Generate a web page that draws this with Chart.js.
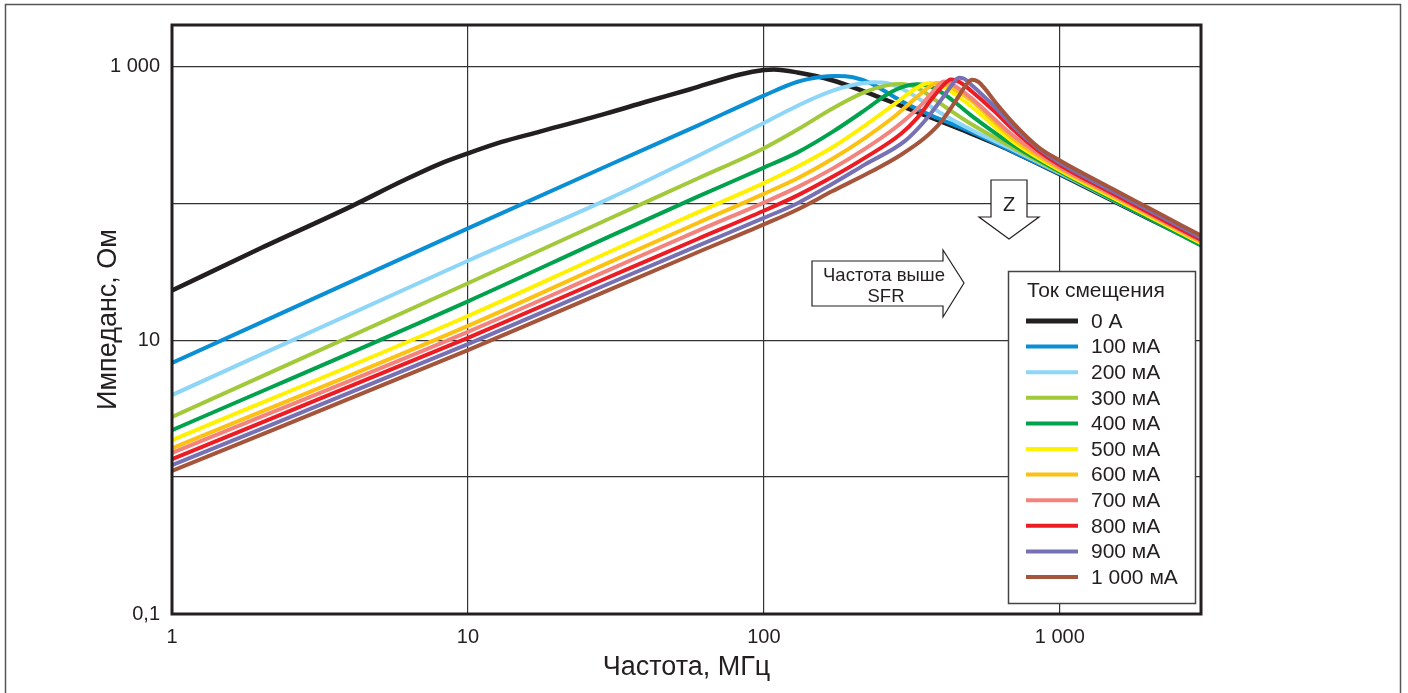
<!DOCTYPE html>
<html>
<head>
<meta charset="utf-8">
<script src="https://cdn.jsdelivr.net/npm/chart.js@4.4.1/dist/chart.umd.min.js"></script>
<style>
  body { margin: 0; background: #fff; }
  canvas { display: block; }
</style>
</head>
<body>
<canvas id="myChart" width="1408" height="693"></canvas>
<script>
// оси
var xTicks = [1, 10, 100, 1000];
var xTickLabels = ["1", "10", "100", "1 000"];
var yTicks = [0.1, 1, 10, 100, 1000];
var yTickLabels = ["0,1", "", "10", "", "1 000"];

var legendTitle = "Ток смещения";
var labels = ["0 А", "100 мА", "200 мА", "300 мА", "400 мА", "500 мА", "600 мА", "700 мА", "800 мА", "900 мА", "1 000 мА"];
var colors = ["#231f20", "#0a8fd5", "#8dd6f7", "#a2c93a", "#00a24d", "#fff100", "#fdc114", "#f2847d", "#ec1c24", "#7671b4", "#a4553b"];

// [частота МГц, импеданс Ом]
var z0 = [[1, 23], [2, 47], [4, 94], [6, 145], [8, 193], [10, 231], [13, 280], [17.5, 333], [29.4, 452], [40, 550], [56, 676], [83, 871], [100, 938], [108, 945], [130, 900], [170, 790], [220, 650], [290, 515], [370, 420], [480, 335], [630, 262], [700, 236], [1000, 163], [1500, 105], [2000, 77], [3000, 50]];
var z100 = [[1, 6.8], [10, 65.5], [30, 190], [60, 370], [100, 610], [130, 770], [155, 835], [175, 850], [200, 830], [230, 750], [290, 560], [370, 435], [480, 345], [700, 236], [1000, 164], [1500, 106], [2000, 77.5], [3000, 50]];
var z200 = [[1, 3.97], [10, 38], [30, 108], [60, 222], [100, 385], [130, 515], [170, 660], [200, 730], [235, 765], [260, 755], [290, 690], [330, 590], [400, 450], [500, 345], [700, 244], [1000, 166], [1500, 106.6], [2000, 78], [3000, 50]];
var z300 = [[1, 2.75], [10, 26], [30, 77], [60, 152], [100, 252], [130, 345], [170, 490], [220, 650], [260, 725], [290, 742], [330, 695], [370, 590], [430, 470], [500, 380], [700, 252], [1000, 168], [1500, 107.4], [2000, 78.2], [3000, 50]];
var z400 = [[1, 2.2], [10, 19.2], [30, 57], [60, 112], [100, 182], [130, 235], [170, 330], [220, 480], [260, 620], [300, 715], [330, 740], [360, 720], [400, 640], [450, 530], [500, 440], [700, 263], [1000, 170], [1500, 107.4], [2000, 77.5], [3000, 49]];
var z500 = [[1, 1.86], [10, 15], [30, 44], [60, 86], [100, 140], [130, 185], [170, 255], [220, 370], [280, 540], [320, 670], [345, 735], [365, 755], [390, 730], [430, 650], [490, 530], [700, 278], [1000, 174], [1500, 110.6], [2000, 80.2], [3000, 51]];
var z600 = [[1, 1.62], [10, 12.7], [30, 37], [60, 72], [100, 117], [130, 152], [170, 210], [220, 300], [280, 440], [330, 600], [360, 700], [383, 755], [405, 745], [440, 680], [500, 565], [700, 292], [1000, 178], [1500, 113], [2000, 81.9], [3000, 52]];
var z700 = [[1, 1.5], [10, 11.5], [30, 32.6], [60, 63], [100, 101], [130, 131], [170, 178], [220, 250], [280, 360], [340, 520], [370, 640], [390, 730], [405, 775], [420, 765], [450, 700], [500, 590], [700, 308], [1000, 183], [1500, 115.8], [2000, 83.7], [3000, 53]];
var z800 = [[1, 1.35], [10, 10.4], [30, 28.9], [60, 55], [100, 88], [130, 114], [170, 155], [220, 215], [290, 320], [330, 420], [370, 580], [400, 710], [428, 800], [445, 790], [470, 740], [500, 665], [600, 470], [700, 340], [850, 240], [1000, 190], [1500, 118.6], [2000, 85.6], [3000, 54]];
var z900 = [[1, 1.22], [10, 9.35], [30, 25.9], [60, 49], [100, 78], [130, 100], [170, 138], [220, 192], [300, 285], [350, 400], [400, 580], [430, 720], [456, 825], [475, 810], [500, 740], [600, 510], [700, 360], [850, 250], [1000, 197], [1500, 123], [2000, 88.7], [3000, 56]];
var z1000 = [[1, 1.11], [10, 8.45], [30, 23.3], [60, 44], [100, 70], [130, 90], [170, 122], [228, 168], [290, 225], [350, 300], [400, 400], [450, 580], [480, 720], [505, 795], [530, 770], [560, 680], [600, 560], [700, 380], [850, 255], [1000, 205], [1500, 127.8], [2000, 92.1], [3000, 58]];

var series = [z0, z100, z200, z300, z400, z500, z600, z700, z800, z900, z1000];

var FONT = "'Liberation Sans', Arial, sans-serif";
var INK = "#231f20";

var datasets = series.map(function (s, i) {
  return {
    label: labels[i],
    data: s.map(function (p) { return { x: p[0], y: p[1] }; }),
    borderColor: colors[i],
    borderWidth: i === 0 ? 4.5 : 4,
    pointRadius: 0,
    fill: false,
    cubicInterpolationMode: "monotone",
    borderJoinStyle: "round",
    order: series.length - i,
  };
});

// фон и внешняя рамка
var background = {
  id: "background",
  beforeDraw: function (chart) {
    var ctx = chart.ctx;
    ctx.save();
    ctx.fillStyle = "#fff";
    ctx.fillRect(0, 0, chart.width, chart.height);
    ctx.strokeStyle = "#555";
    ctx.lineWidth = 1.5;
    ctx.strokeRect(5.5, 4.5, 1395, 720);
    ctx.restore();
  },
};

// рамка графика, стрелки и легенда
var extras = {
  id: "extras",
  afterDraw: function (chart) {
    var ctx = chart.ctx;
    var a = chart.chartArea;
    ctx.save();
    ctx.strokeStyle = INK;
    ctx.lineWidth = 3;
    ctx.strokeRect(a.left, a.top, a.right - a.left, a.bottom - a.top);

    // стрелка Z
    ctx.lineWidth = 1.2;
    ctx.fillStyle = "#fff";
    ctx.beginPath();
    ctx.moveTo(991, 180);
    ctx.lineTo(1027, 180);
    ctx.lineTo(1027, 217);
    ctx.lineTo(1039, 217);
    ctx.lineTo(1009, 239);
    ctx.lineTo(979, 217);
    ctx.lineTo(991, 217);
    ctx.closePath();
    ctx.fill();
    ctx.stroke();

    // стрелка SFR
    ctx.beginPath();
    ctx.moveTo(812, 261);
    ctx.lineTo(943, 261);
    ctx.lineTo(943, 250);
    ctx.lineTo(964, 283);
    ctx.lineTo(943, 317);
    ctx.lineTo(943, 306);
    ctx.lineTo(812, 306);
    ctx.closePath();
    ctx.fill();
    ctx.stroke();

    ctx.fillStyle = INK;
    ctx.textAlign = "center";
    ctx.textBaseline = "middle";
    ctx.font = "20px " + FONT;
    ctx.fillText("Z", 1009, 205);
    ctx.font = "18.5px " + FONT;
    ctx.fillText("Частота выше", 884, 276);
    ctx.fillText("SFR", 886, 297);

    // легенда
    ctx.fillStyle = "#fff";
    ctx.fillRect(1008, 271, 187, 332);
    ctx.strokeStyle = "#444";
    ctx.lineWidth = 1.5;
    ctx.strokeRect(1008.5, 271.5, 187, 332);
    ctx.fillStyle = INK;
    ctx.textAlign = "left";
    ctx.font = "21px " + FONT;
    ctx.fillText(legendTitle, 1027, 291);
    chart.data.datasets.forEach(function (ds, i) {
      var y = 321 + i * 25.6;
      ctx.strokeStyle = ds.borderColor;
      ctx.lineWidth = i === 0 ? 5 : 4;
      ctx.beginPath();
      ctx.moveTo(1026, y);
      ctx.lineTo(1078, y);
      ctx.stroke();
      ctx.fillText(ds.label, 1091, y + 1);
    });
    ctx.restore();
  },
};

var ctx = document.getElementById("myChart").getContext("2d");
var chart = new Chart(ctx, {
  type: "line",
  data: { datasets: datasets },
  plugins: [background, extras],
  options: {
    responsive: false,
    animation: false,
    layout: { padding: { left: 0, top: 25, right: 207, bottom: 0 } },
    plugins: { legend: { display: false }, tooltip: { enabled: false } },
    scales: {
      x: {
        type: "logarithmic",
        min: 1,
        max: 3000,
        afterBuildTicks: function (scale) {
          scale.ticks = xTicks.map(function (v) { return { value: v }; });
        },
        afterFit: function (scale) { scale.height = 79; },
        ticks: {
          autoSkip: false,
          maxRotation: 0,
          padding: 11,
          color: INK,
          font: { family: FONT, size: 20 },
          callback: function (v) { return xTickLabels[xTicks.indexOf(v)]; },
        },
        grid: { color: "#333", lineWidth: 1.2, drawTicks: false },
        border: { display: false },
        title: {
          display: true,
          text: "Частота, МГц",
          color: INK,
          font: { family: FONT, size: 27 },
          padding: { top: 0, bottom: 9 },
        },
      },
      y: {
        type: "logarithmic",
        min: 0.1,
        max: 2000,
        afterBuildTicks: function (scale) {
          scale.ticks = yTicks.map(function (v) { return { value: v }; });
        },
        afterFit: function (scale) { scale.width = 172; },
        ticks: {
          autoSkip: false,
          padding: 12,
          color: INK,
          font: { family: FONT, size: 20 },
          callback: function (v) { return yTickLabels[yTicks.indexOf(v)]; },
        },
        grid: { color: "#333", lineWidth: 1.2, drawTicks: false },
        border: { display: false },
        title: {
          display: true,
          text: "Импеданс, Ом",
          color: INK,
          font: { family: FONT, size: 27 },
          padding: { top: 92, bottom: 0 },
        },
      },
    },
  },
});
</script>
</body>
</html>
